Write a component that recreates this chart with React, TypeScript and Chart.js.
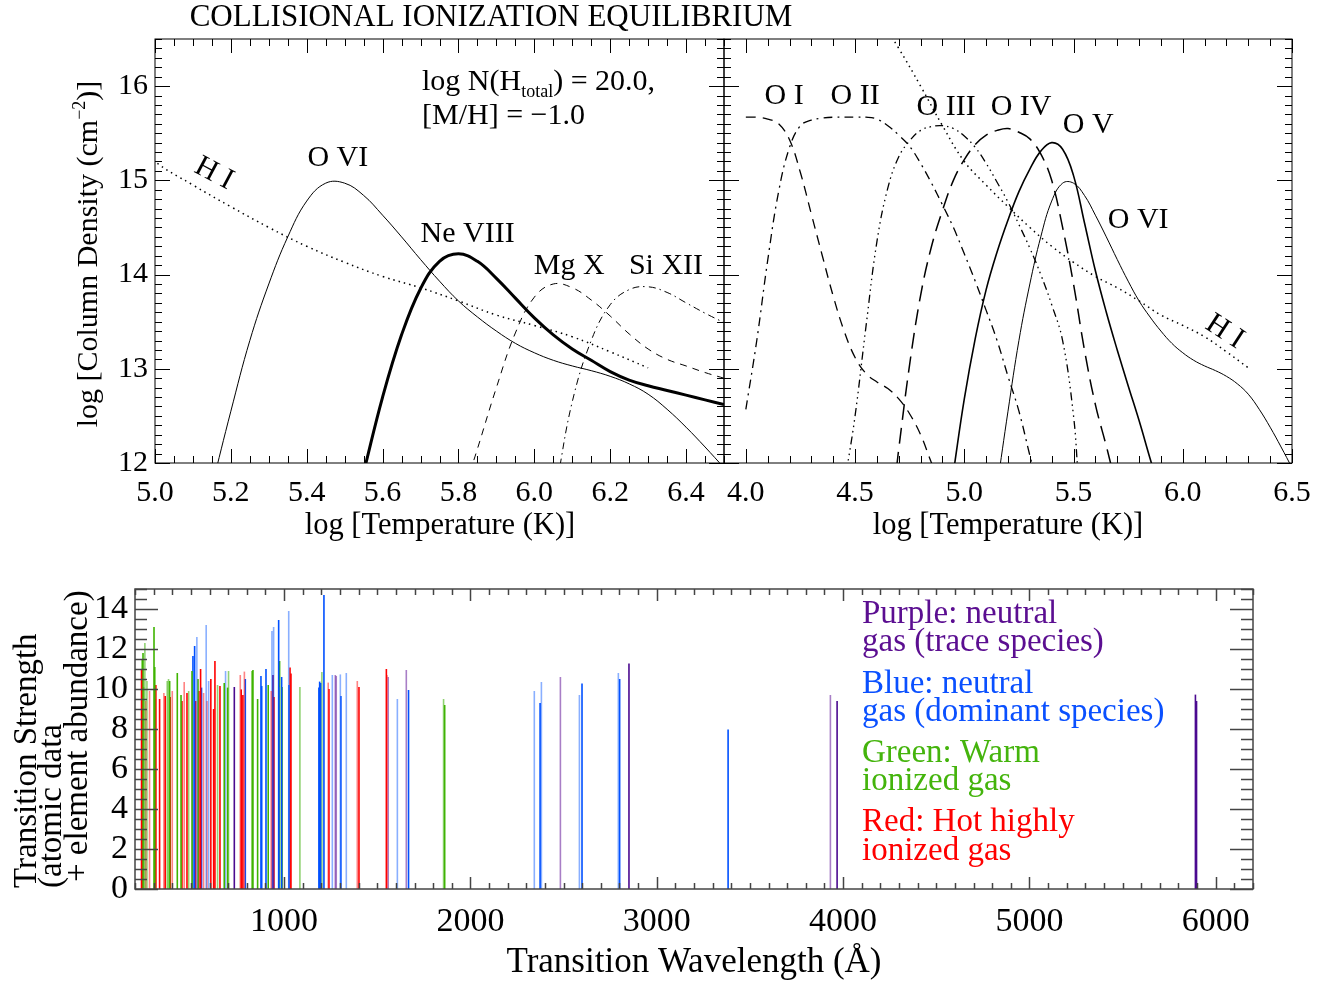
import React, { useEffect, useRef } from 'react';
import { Chart, registerables } from 'chart.js';

Chart.register(...registerables);

const FONT = '"Liberation Serif", "Times New Roman", Times, serif';
const W = 1341;

/* ---------------- Top panels: log N (cm^-2) versus log T (K) ---------------- */
const hiT = [4.6, 4.7, 4.8, 4.9, 5.0, 5.1, 5.2, 5.3, 5.4, 5.5, 5.6, 5.7, 5.8, 5.9, 6.0, 6.1, 6.2, 6.3];
const hiN = [16.76, 16.4, 16.0, 15.58, 15.2, 14.95, 14.72, 14.5, 14.3, 14.13, 13.98, 13.86, 13.72, 13.57, 13.46, 13.34, 13.18, 13.01];

const o6T = [5.15, 5.2, 5.25, 5.3, 5.35, 5.4, 5.45, 5.5, 5.55, 5.6, 5.65, 5.7, 5.75, 5.8, 5.85, 5.9, 5.95, 6.0, 6.05, 6.1, 6.15, 6.2, 6.25, 6.3, 6.35, 6.4, 6.45, 6.5];
const o6N = [11.75, 12.55, 13.3, 13.9, 14.4, 14.78, 14.97, 14.97, 14.84, 14.63, 14.4, 14.16, 13.93, 13.72, 13.55, 13.4, 13.27, 13.17, 13.09, 13.03, 12.98, 12.92, 12.84, 12.73, 12.57, 12.38, 12.17, 11.95];

const ne8T = [5.55, 5.6, 5.65, 5.7, 5.75, 5.8, 5.85, 5.9, 5.95, 6.0, 6.05, 6.1, 6.15, 6.2, 6.25, 6.3, 6.35, 6.4, 6.45, 6.5];
const ne8N = [11.9, 12.7, 13.36, 13.85, 14.14, 14.22, 14.14, 13.96, 13.75, 13.54, 13.36, 13.21, 13.09, 12.97, 12.88, 12.82, 12.77, 12.72, 12.67, 12.62];

const mg10T = [5.83, 5.85, 5.9, 5.95, 6.0, 6.05, 6.1, 6.15, 6.2, 6.25, 6.3, 6.35, 6.4, 6.45, 6.5];
const mg10N = [11.9, 12.15, 12.8, 13.38, 13.76, 13.9, 13.86, 13.73, 13.56, 13.37, 13.21, 13.1, 13.03, 12.96, 12.9];

const si12T = [6.06, 6.1, 6.15, 6.2, 6.25, 6.3, 6.35, 6.4, 6.45, 6.5];
const si12N = [11.8, 12.65, 13.3, 13.68, 13.84, 13.87, 13.81, 13.7, 13.59, 13.49];

const o1T = [4.0, 4.05, 4.1, 4.15, 4.2, 4.25, 4.3, 4.35, 4.4, 4.45, 4.5, 4.55, 4.6, 4.65, 4.7, 4.75, 4.8, 4.85, 4.87];
const o1N = [15.67, 15.67, 15.65, 15.6, 15.43, 15.08, 14.64, 14.2, 13.77, 13.4, 13.12, 12.95, 12.86, 12.79, 12.68, 12.52, 12.3, 12.0, 11.9];

const o2T = [4.0, 4.05, 4.1, 4.15, 4.2, 4.25, 4.3, 4.35, 4.4, 4.45, 4.5, 4.55, 4.6, 4.65, 4.7, 4.75, 4.8, 4.85, 4.9, 4.95, 5.0, 5.05, 5.1, 5.15, 5.2, 5.25, 5.3, 5.32];
const o2N = [12.57, 13.3, 14.15, 14.88, 15.35, 15.58, 15.64, 15.66, 15.67, 15.67, 15.67, 15.67, 15.65, 15.58, 15.48, 15.36, 15.18, 14.97, 14.74, 14.5, 14.22, 13.93, 13.62, 13.3, 12.92, 12.55, 12.08, 11.9];

const o3T = [4.46, 4.5, 4.55, 4.6, 4.65, 4.7, 4.75, 4.8, 4.85, 4.9, 4.95, 5.0, 5.05, 5.1, 5.15, 5.2, 5.25, 5.3, 5.35, 5.4, 5.45, 5.5, 5.52];
const o3N = [11.9, 12.5, 13.45, 14.35, 14.92, 15.25, 15.42, 15.53, 15.57, 15.58, 15.55, 15.47, 15.35, 15.18, 14.98, 14.77, 14.53, 14.28, 14.0, 13.68, 13.3, 12.5, 11.9];

const o4T = [4.69, 4.7, 4.75, 4.8, 4.85, 4.9, 4.95, 5.0, 5.05, 5.1, 5.15, 5.2, 5.25, 5.3, 5.35, 5.4, 5.45, 5.5, 5.55, 5.6, 5.65, 5.68];
const o4N = [11.95, 12.15, 13.05, 13.78, 14.3, 14.68, 15.0, 15.22, 15.38, 15.48, 15.53, 15.55, 15.51, 15.44, 15.28, 15.0, 14.5, 13.9, 13.2, 12.62, 12.18, 11.9];

const o5T = [4.95, 5.0, 5.05, 5.1, 5.15, 5.2, 5.25, 5.3, 5.35, 5.4, 5.45, 5.5, 5.55, 5.6, 5.65, 5.7, 5.75, 5.8, 5.85, 5.87];
const o5N = [11.9, 12.68, 13.32, 13.84, 14.24, 14.58, 14.88, 15.12, 15.31, 15.4, 15.33, 15.05, 14.55, 14.04, 13.6, 13.2, 12.82, 12.45, 12.05, 11.9];

const leftTickT = [5.0, 5.2, 5.4, 5.6, 5.8, 6.0, 6.2, 6.4];
const rightTickT = [4.0, 4.5, 5.0, 5.5, 6.0, 6.5];
const columnTicks = [12, 13, 14, 15, 16];

/* ---------------- Bottom panel: transitions ---------------- */
// R/r hot highly ionized, G/g warm ionized, B/b neutral dominant, P/p neutral trace (lower case = fainter)
const lineWave = [235, 239, 243, 246, 253, 257, 264, 278, 302, 306, 309, 312, 332, 355, 362, 373, 380, 386, 389, 400,
  427, 447, 452, 464, 479, 488, 506, 511, 520, 525, 532, 538, 543, 552, 557, 568, 582, 586, 595, 607,
  622, 629, 643, 656, 679, 686, 697, 702, 733, 765, 770, 779, 787, 792, 829, 833, 858, 876, 880, 903,
  915, 931, 935, 940, 944, 946, 971, 973, 976, 987, 989, 1025, 1026, 1032, 1037, 1085, 1187, 1191, 1196, 1203,
  1214, 1237, 1241, 1259, 1275, 1280, 1302, 1305, 1334, 1393, 1402, 1549, 1552, 1559, 1608, 1656, 1668, 1856, 1862,
  2343, 2374, 2381, 2483, 2585, 2599, 2794, 2801, 2851, 3383, 3932, 3968, 5891, 5897];
const lineStrength = [11.0, 11.5, 11.8, 10.1, 12.3, 9.4, 10.4, 9.9, 13.1, 11.1, 9.5, 10.2, 9.5, 9.8, 9.65, 10.4, 10.5, 10.4, 9.6, 9.9,
  10.8, 9.7, 9.4, 10.35, 9.8, 9.9, 10.9, 11.65, 12.15, 9.4, 12.6, 10.5, 9.9, 11.0, 10.07, 9.8, 13.2, 9.4, 10.4, 10.5,
  9.0, 11.4, 10.2, 10.15, 10.3, 10.9, 10.07, 10.9, 10.1, 10.7, 9.98, 9.7, 10.87, 10.5, 10.9, 10.95, 9.5, 10.65, 10.15, 11.0,
  10.2, 9.9, 12.9, 10.7, 13.1, 9.6, 13.45, 10.1, 11.4, 10.6, 10.1, 13.9, 10.2, 11.07, 10.77, 10.1, 10.07, 10.37, 10.3, 10.85,
  14.7, 10.32, 10.0, 10.7, 10.7, 10.65, 10.73, 9.65, 10.8, 10.4, 10.1, 11.0, 10.7, 10.6, 9.5, 10.95, 9.95, 9.5, 9.2,
  9.9, 9.3, 10.35, 10.6, 9.7, 10.27, 10.8, 10.5, 11.27, 7.97, 9.7, 9.4, 9.72, 9.4];
const lineKind = ['R', 'G', 'G', 'g', 'g', 'r', 'g', 'r', 'G', 'G', 'R', 'R', 'R', 'r', 'R', 'g', 'g', 'G', 'R', 'r',
  'G', 'G', 'R', 'r', 'R', 'g', 'G', 'B', 'B', 'R', 'b', 'G', 'R', 'R', 'B', 'r', 'b', 'r', 'b', 'R',
  'R', 'R', 'g', 'R', 'G', 'b', 'G', 'g', 'P', 'r', 'R', 'R', 'r', 'B', 'G', 'G', 'G', 'B', 'B', 'B',
  'G', 'r', 'b', 'P', 'b', 'R', 'B', 'b', 'G', 'B', 'G', 'b', 'B', 'R', 'R', 'g', 'B', 'B', 'B', 'g',
  'B', 'r', 'R', 'b', 'p', 'p', 'b', 'B', 'b', 'r', 'R', 'R', 'r', 'p', 'b', 'p', 'B', 'g', 'G',
  'b', 'B', 'b', 'p', 'b', 'B', 'b', 'B', 'P', 'B', 'p', 'P', 'P', 'P'];
const waveTicks = [1000, 2000, 3000, 4000, 5000, 6000];
const strengthTicks = [0, 2, 4, 6, 8, 10, 12, 14];

const kindColor: Record<string, string> = {
  R: '#ff0000', r: 'rgba(255,30,30,0.55)',
  G: '#3fb400', g: 'rgba(70,180,20,0.6)',
  B: '#0050ff', b: 'rgba(40,110,255,0.55)',
  P: '#4b0a90', p: 'rgba(110,40,160,0.6)',
};

const legendLines = [
  ['Purple: neutral', '#5b0e91'], ['gas (trace species)', '#5b0e91'],
  ['Blue: neutral', '#0a50ff'], ['gas (dominant species)', '#0a50ff'],
  ['Green: Warm', '#44b40c'], ['ionized gas', '#44b40c'],
  ['Red: Hot highly', '#ff0000'], ['ionized gas', '#ff0000'],
];

/* ---------------- helpers ---------------- */
type Seg = { t: string; s?: number; dy?: number };
type TextItem = { segs: Seg[]; x: number; y: number; data?: boolean; size: number; align?: 'left' | 'center' | 'right'; rot?: number; color?: string };

const txt = (t: string) => [{ t }];

function makeTexts(items: TextItem[]) {
  return {
    id: 'texts',
    afterDraw(chart: any) {
      const ctx: CanvasRenderingContext2D = chart.ctx;
      for (const it of items) {
        const px = it.data ? chart.scales.x.getPixelForValue(it.x) : it.x;
        const py = it.data ? chart.scales.y.getPixelForValue(it.y) : it.y;
        ctx.save();
        ctx.translate(px, py);
        if (it.rot) ctx.rotate((it.rot * Math.PI) / 180);
        ctx.fillStyle = it.color || '#000';
        ctx.textBaseline = 'alphabetic';
        ctx.textAlign = 'left';
        const widths = it.segs.map((s) => {
          ctx.font = `${s.s || it.size}px ${FONT}`;
          return ctx.measureText(s.t).width;
        });
        const total = widths.reduce((a, b) => a + b, 0);
        let cx = it.align === 'center' || !it.align ? -total / 2 : it.align === 'right' ? -total : 0;
        const base = it.size * 0.33;
        it.segs.forEach((s, i) => {
          ctx.font = `${s.s || it.size}px ${FONT}`;
          ctx.fillText(s.t, cx, base + (s.dy || 0));
          cx += widths[i];
        });
        ctx.restore();
      }
    },
  };
}

type TickSpec = { from: number; to: number; step: number; majors: number[]; major: number; minor: number };
function makeFrame(xs: TickSpec, ys: TickSpec, color: string, width: number) {
  return {
    id: 'idlFrame',
    afterDatasetsDraw(chart: any) {
      const ctx: CanvasRenderingContext2D = chart.ctx;
      const a = chart.chartArea;
      ctx.save();
      ctx.strokeStyle = color;
      ctx.lineWidth = width;
      ctx.beginPath();
      const run = (spec: TickSpec, horiz: boolean) => {
        const scale = horiz ? chart.scales.x : chart.scales.y;
        const n = Math.round((spec.to - spec.from) / spec.step);
        for (let i = 0; i <= n; i++) {
          const v = spec.from + i * spec.step;
          const isMaj = spec.majors.some((m) => Math.abs(m - v) < spec.step / 10);
          const len = isMaj ? spec.major : spec.minor;
          const p = Math.round(scale.getPixelForValue(v)) + 0.5;
          if (horiz) {
            ctx.moveTo(p, a.bottom); ctx.lineTo(p, a.bottom - len);
            ctx.moveTo(p, a.top); ctx.lineTo(p, a.top + len);
          } else {
            ctx.moveTo(a.left, p); ctx.lineTo(a.left + len, p);
            ctx.moveTo(a.right, p); ctx.lineTo(a.right - len, p);
          }
        }
      };
      run(xs, true);
      run(ys, false);
      ctx.stroke();
      ctx.strokeRect(a.left, a.top, a.right - a.left, a.bottom - a.top);
      ctx.restore();
    },
  };
}

function axis(min: number, max: number, ticks: number[], fmt: (v: number) => string, size: number, pad: number,
  fit: { width?: number; height?: number }, display = true) {
  return {
    type: 'linear', min, max, display, bounds: 'data',
    grid: { display: false, drawTicks: false },
    border: { display: false },
    afterBuildTicks: (s: any) => { s.ticks = ticks.map((v) => ({ value: v })); },
    afterFit: (s: any) => {
      if (fit.width !== undefined) s.width = fit.width;
      if (fit.height !== undefined) s.height = fit.height;
    },
    ticks: {
      autoSkip: false, maxRotation: 0, minRotation: 0, padding: pad, color: '#000',
      font: { family: FONT, size }, callback: (v: any) => fmt(Number(v)),
    },
  };
}

const pts = (xs: number[], ys: number[]) => xs.map((x, i) => ({ x, y: ys[i] }));
function curve(label: string, xs: number[], ys: number[], width: number, dash: number[]) {
  return {
    label, data: pts(xs, ys), borderColor: '#000', borderWidth: width, borderDash: dash,
    pointRadius: 0, fill: false, tension: 0.4, borderCapStyle: 'butt',
  };
}

const DOT = [1.5, 4];

function leftConfig() {
  return {
    type: 'line',
    data: {
      datasets: [
        curve('H I', hiT, hiN, 1.5, DOT),
        curve('O VI', o6T, o6N, 1, []),
        curve('Ne VIII', ne8T, ne8N, 3, []),
        curve('Mg X', mg10T, mg10N, 1, [7, 6]),
        curve('Si XII', si12T, si12N, 1, [7, 4, 1.5, 4]),
      ],
    },
    options: {
      responsive: false, animation: false, events: [],
      layout: { padding: { left: 0, top: 39, right: W - 724, bottom: 0 } },
      scales: {
        x: axis(5.0, 6.5, leftTickT, (v) => v.toFixed(1), 30, 12, { height: 550 - 463 }),
        y: axis(12, 16.5, columnTicks, (v) => String(v), 30, 7, { width: 155 }),
      },
      plugins: { legend: { display: false }, tooltip: { enabled: false } },
    },
    plugins: [
      makeFrame({ from: 5.0, to: 6.5, step: 0.05, majors: leftTickT, major: 14, minor: 7 },
        { from: 12, to: 16.5, step: 0.1, majors: columnTicks, major: 15, minor: 7 }, '#000', 1),
      makeTexts([
        { segs: txt('COLLISIONAL IONIZATION EQUILIBRIUM'), x: 491, y: 16, size: 31 },
        { segs: [{ t: 'log N(H' }, { t: 'total', s: 18, dy: 7 }, { t: ') = 20.0,' }], x: 422, y: 80, size: 30, align: 'left' },
        { segs: txt('[M/H] = \u22121.0'), x: 422, y: 114, size: 30, align: 'left' },
        { segs: [{ t: 'log [Column Density (cm' }, { t: '\u22122', s: 18, dy: -12 }, { t: ')]' }], x: 87, y: 254, size: 30, rot: -90 },
        { segs: txt('log [Temperature (K)]'), x: 440, y: 524, size: 30.5 },
        { segs: txt('O VI'), x: 5.482, y: 15.26, data: true, size: 30 },
        { segs: txt('Ne VIII'), x: 5.824, y: 14.45, data: true, size: 30 },
        { segs: txt('Mg X'), x: 6.092, y: 14.11, data: true, size: 30 },
        { segs: txt('Si XII'), x: 6.347, y: 14.11, data: true, size: 30 },
        { segs: txt('H I'), x: 5.158, y: 15.09, data: true, size: 30, rot: 28 },
      ]),
    ],
  };
}

function rightConfig() {
  return {
    type: 'line',
    data: {
      datasets: [
        curve('H I', hiT, hiN, 1.5, DOT),
        curve('O I', o1T, o1N, 1.3, [10, 7]),
        curve('O II', o2T, o2N, 1.3, [9, 5, 2, 5]),
        curve('O III', o3T, o3N, 1.3, [8, 4, 1.5, 4, 1.5, 4, 1.5, 4]),
        curve('O IV', o4T, o4N, 1.5, [16, 8]),
        curve('O V', o5T, o5N, 1.6, []),
        curve('O VI', o6T, o6N, 1, []),
      ],
    },
    options: {
      responsive: false, animation: false, events: [],
      layout: { padding: { left: 724, top: 39, right: W - 1292, bottom: 0 } },
      scales: {
        x: axis(3.9, 6.5, rightTickT, (v) => v.toFixed(1), 30, 12, { height: 550 - 463 }),
        y: axis(12, 16.5, columnTicks, (v) => String(v), 30, 7, { width: 0 }, false),
      },
      plugins: { legend: { display: false }, tooltip: { enabled: false } },
    },
    plugins: [
      makeFrame({ from: 3.9, to: 6.5, step: 0.1, majors: rightTickT, major: 14, minor: 7 },
        { from: 12, to: 16.5, step: 0.1, majors: columnTicks, major: 15, minor: 7 }, '#000', 1),
      makeTexts([
        { segs: txt('log [Temperature (K)]'), x: 1008, y: 524, size: 30.5 },
        { segs: txt('O I'), x: 4.175, y: 15.91, data: true, size: 30 },
        { segs: txt('O II'), x: 4.5, y: 15.91, data: true, size: 30 },
        { segs: txt('O III'), x: 4.917, y: 15.8, data: true, size: 30 },
        { segs: txt('O IV'), x: 5.26, y: 15.8, data: true, size: 30 },
        { segs: txt('O V'), x: 5.567, y: 15.61, data: true, size: 30 },
        { segs: txt('O VI'), x: 5.796, y: 14.6, data: true, size: 30 },
        { segs: txt('H I'), x: 6.197, y: 13.41, data: true, size: 30, rot: 33 },
      ]),
    ],
  };
}

const BOT_TOP = 560;
const BOT_H = 422;

function bottomConfig() {
  const datasets = lineWave.map((w, i) => ({
    label: String(w),
    data: [{ x: w, y: 0 }, { x: w, y: lineStrength[i] }],
    borderColor: kindColor[lineKind[i]],
    borderWidth: 1.6,
    pointRadius: 0,
    fill: false,
    borderCapStyle: 'butt',
  }));
  const legendItems: TextItem[] = legendLines.map(([t, c], i) => ({
    segs: txt(t), x: 862, y: [612, 640, 682, 710, 751, 779, 820, 849][i] - BOT_TOP, size: 33, align: 'left', color: c,
  }));
  return {
    type: 'line',
    data: { datasets },
    options: {
      responsive: false, animation: false, events: [],
      layout: { padding: { left: 0, top: 29, right: W - 1253, bottom: 0 } },
      scales: {
        x: axis(200, 6200, waveTicks, (v) => String(v), 34, 13, { height: BOT_H - 329 }),
        y: axis(0, 15, strengthTicks, (v) => String(v), 34, 7, { width: 135 }),
      },
      plugins: { legend: { display: false }, tooltip: { enabled: false } },
    },
    plugins: [
      makeFrame({ from: 200, to: 6200, step: 100, majors: waveTicks, major: 12, minor: 6 },
        { from: 0, to: 15, step: 0.5, majors: strengthTicks, major: 23, minor: 12 }, '#444', 1.5),
      makeTexts([
        { segs: txt('Transition Wavelength (\u00c5)'), x: 694, y: 960 - BOT_TOP, size: 35 },
        { segs: txt('Transition Strength'), x: 25, y: 888 - BOT_TOP, size: 33, rot: -90, align: 'left' },
        { segs: txt('(atomic data'), x: 50, y: 888 - BOT_TOP, size: 33, rot: -90, align: 'left' },
        { segs: txt('+ element abundance)'), x: 76, y: 882 - BOT_TOP, size: 33, rot: -90, align: 'left' },
        ...legendItems,
      ]),
    ],
  };
}

function ChartCanvas({ top, height, make }: { top: number; height: number; make: () => any }) {
  const ref = useRef<HTMLCanvasElement>(null);
  useEffect(() => {
    const chart = new Chart(ref.current as HTMLCanvasElement, make());
    return () => chart.destroy();
  }, []);
  return (
    <canvas ref={ref} width={W} height={height}
      style={{ position: 'absolute', left: 0, top, width: W, height, display: 'block' }} />
  );
}

export default function App() {
  return (
    <div style={{ position: 'absolute', left: 0, top: 0, width: W, height: 982, background: '#fff', overflow: 'hidden' }}>
      <ChartCanvas top={0} height={550} make={leftConfig} />
      <ChartCanvas top={0} height={550} make={rightConfig} />
      <ChartCanvas top={BOT_TOP} height={BOT_H} make={bottomConfig} />
    </div>
  );
}
